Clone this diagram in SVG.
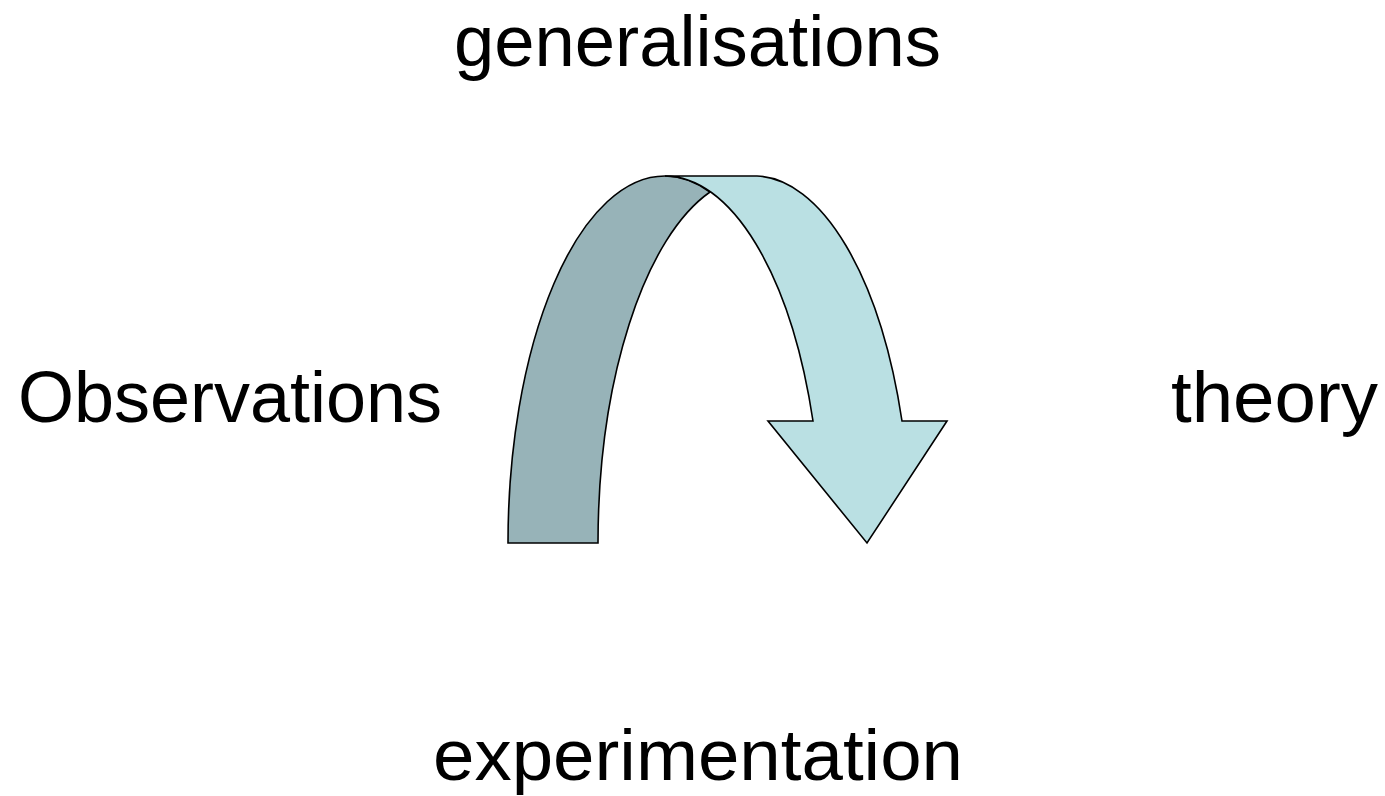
<svg xmlns="http://www.w3.org/2000/svg" width="1385" height="796" viewBox="0 0 1385 796">
<style>
.lbl{font-family:"Liberation Sans",Arial,sans-serif;font-size:72px;fill:#000}
.band{stroke:#000;stroke-width:1.6;stroke-linejoin:miter}
</style>
<rect width="1385" height="796" fill="#fff"/>
<g id="connectors">
<g id="curved-arrow">
<path class="band" fill="#97B3B8" d="M508,543 A157,367 0 0 1 665,176 A157,367 0 0 1 710,192 A157,367 0 0 0 598,543 Z"/>
<path class="band" fill="#BAE0E3" d="M665,176 L757,176 A157,367 0 0 1 902,421 L947,421 L867,543 L768,421 L813,421 A157,367 0 0 0 665,176 Z"/>
</g>
</g>
<g id="node-generalisations"><text class="lbl" x="454" y="66" textLength="487" lengthAdjust="spacingAndGlyphs">generalisations</text></g>
<g id="node-observations"><text class="lbl" x="18" y="422" textLength="424" lengthAdjust="spacingAndGlyphs">Observations</text></g>
<g id="node-theory"><text class="lbl" x="1171" y="422" textLength="207" lengthAdjust="spacingAndGlyphs">theory</text></g>
<g id="node-experimentation"><text class="lbl" x="433" y="780" textLength="530" lengthAdjust="spacingAndGlyphs">experimentation</text></g>
</svg>
